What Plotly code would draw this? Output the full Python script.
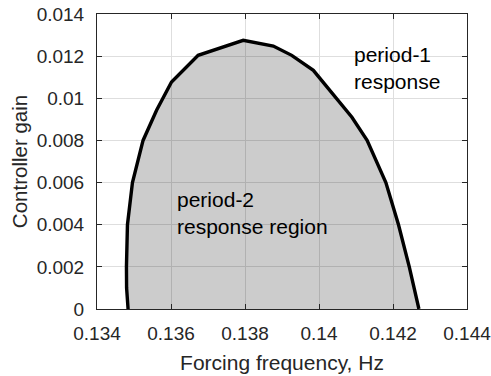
import plotly.graph_objects as go

# Boundary of the period-2 response region (forcing frequency vs controller gain)
freq_hz = [0.13484, 0.13480, 0.134796, 0.134823, 0.134958, 0.135245, 0.13561,
           0.136014, 0.136734, 0.137952, 0.138765, 0.139263, 0.139847, 0.140481,
           0.14089, 0.14130, 0.141807, 0.142149, 0.14244, 0.14270]
gain = [0.0, 0.001, 0.002, 0.004, 0.006, 0.008, 0.00943,
        0.010773, 0.012038, 0.012749, 0.012479, 0.012038, 0.011327, 0.010,
        0.0091, 0.008, 0.006, 0.004, 0.002, 0.0]

x_ticks = [0.134, 0.136, 0.138, 0.140, 0.142, 0.144]
x_tick_labels = ["0.134", "0.136", "0.138", "0.14", "0.142", "0.144"]
y_ticks = [0, 0.002, 0.004, 0.006, 0.008, 0.010, 0.012, 0.014]
y_tick_labels = ["0", "0.002", "0.004", "0.006", "0.008", "0.01", "0.012", "0.014"]

FONT = "Liberation Sans, Arial, Helvetica, sans-serif"
AX = "#262626"

fig = go.Figure()

# shaded region (translucent so the grid shows through)
fig.add_trace(go.Scatter(
    x=freq_hz, y=gain, mode="lines", fill="toself",
    fillcolor="rgba(0,0,0,0.2)", line=dict(width=0), hoverinfo="skip",
    showlegend=False))

# boundary curve
fig.add_trace(go.Scatter(
    x=freq_hz, y=gain, mode="lines",
    line=dict(color="black", width=3.4), showlegend=False))

axis_common = dict(
    showline=True, linecolor=AX, linewidth=1, mirror="ticks",
    ticks="inside", ticklen=5, tickwidth=1, tickcolor=AX,
    showgrid=True, gridcolor="#dedede", gridwidth=1, zeroline=False,
    automargin=False, ticklabeloverflow="allow",
)

fig.update_xaxes(
    range=[0.134, 0.144], tickmode="array", tickvals=x_ticks, ticktext=x_tick_labels,
    tickfont=dict(family=FONT, size=19, color=AX),
    title=dict(text="Forcing frequency, Hz", font=dict(family=FONT, size=21, color=AX), standoff=12),
    ticklabelstandoff=7, **axis_common)
fig.update_yaxes(
    range=[0, 0.014], tickmode="array", tickvals=y_ticks, ticktext=y_tick_labels,
    tickfont=dict(family=FONT, size=19, color=AX),
    title=dict(text="Controller gain", font=dict(family=FONT, size=20.5, color=AX), standoff=3),
    ticklabelstandoff=8, **axis_common)

fig.add_annotation(x=0.140887, y=0.01142, text="period-1<br>response",
                   xanchor="left", yanchor="middle", align="left", showarrow=False,
                   font=dict(family=FONT, size=21, color="black"))
fig.add_annotation(x=0.136103, y=0.00455, text="period-2<br>response region",
                   xanchor="left", yanchor="middle", align="left", showarrow=False,
                   font=dict(family=FONT, size=21, color="black"))

fig.update_layout(
    width=491, height=376,
    margin=dict(l=97, r=24, t=14, b=67),
    paper_bgcolor="white", plot_bgcolor="white",
)

fig.write_html("out.html")
